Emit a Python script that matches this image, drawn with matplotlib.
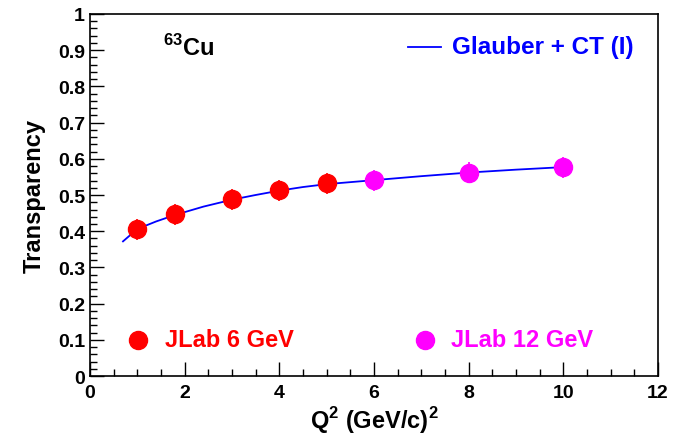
import matplotlib
matplotlib.use("Agg")
import matplotlib.pyplot as plt
import numpy as np
from matplotlib.ticker import MultipleLocator

plt.rcParams['font.family'] = ['Liberation Sans', 'DejaVu Sans']
plt.rcParams['font.weight'] = 'bold'
plt.rcParams['mathtext.fontset'] = 'custom'
plt.rcParams['mathtext.rm'] = 'Liberation Sans:bold'
plt.rcParams['mathtext.bf'] = 'Liberation Sans:bold'

# JLab 6 GeV points
q2_6 = [1.0, 1.8, 3.0, 4.0, 5.0]
t_6 = [0.406, 0.447, 0.488, 0.513, 0.532]
err_6 = [0.029, 0.029, 0.029, 0.029, 0.029]

# JLab 12 GeV projections
q2_12 = [6.0, 8.0, 10.0]
t_12 = [0.541, 0.561, 0.577]
err_12 = [0.029, 0.029, 0.029]

# Glauber + CT (I) curve
q2_curve = [0.7, 1.0, 1.4, 1.8, 2.4, 3.0, 3.5, 4.0, 4.5, 5.0, 6.0, 7.0, 8.0, 9.0, 10.0]
t_curve = [0.372, 0.406, 0.427, 0.445, 0.468, 0.487, 0.500, 0.512, 0.522, 0.530, 0.541, 0.552, 0.562, 0.570, 0.577]

fig = plt.figure(figsize=(6.86, 4.39), dpi=100)
ax = fig.add_axes([0.131, 0.141, 0.828, 0.825])

ax.plot(q2_curve, t_curve, color='#0000ff', lw=1.3, zorder=2)
ax.errorbar(q2_6, t_6, yerr=err_6, fmt='o', color='#ff0000', ms=13, elinewidth=1.2, capsize=0, zorder=3)
ax.errorbar(q2_12, t_12, yerr=err_12, fmt='o', color='#ff00ff', ms=13, elinewidth=1.2, capsize=0, zorder=3)

ax.set_xlim(0, 12)
ax.set_ylim(0, 1)
ax.xaxis.set_major_locator(MultipleLocator(2))
ax.xaxis.set_minor_locator(MultipleLocator(0.5))
ax.yaxis.set_minor_locator(MultipleLocator(0.02))
ax.set_yticks(np.arange(0, 1.01, 0.1))
ax.set_yticklabels(['0', '0.1', '0.2', '0.3', '0.4', '0.5', '0.6', '0.7', '0.8', '0.9', '1'])
ax.tick_params(which='both', direction='in', top=False, right=False, labelsize=14, width=1)
ax.tick_params(which='major', length=10)
ax.tick_params(which='minor', length=5)
ax.tick_params(axis='x', pad=6)
for lab in ax.get_xticklabels() + ax.get_yticklabels():
    lab.set_fontweight('bold')
for s in ax.spines.values():
    s.set_linewidth(1.2)

ax.set_xlabel(r'Q$^{2}$ (GeV/c)$^{2}$', fontsize=17, fontweight='bold', labelpad=2)
ax.set_ylabel('Transparency', fontsize=17, fontweight='bold', labelpad=9)

ax.text(1.55, 0.91, r'$^{63}$Cu', fontsize=17, fontweight='bold', va='center')
ax.plot([6.73, 7.41], [0.91, 0.91], color='#0000ff', lw=1.3)
ax.text(7.66, 0.91, 'Glauber + CT (I)', fontsize=17.5, fontweight='bold', color='#0000ff', va='center')

ax.plot([1.02], [0.1], 'o', color='#ff0000', ms=13)
ax.text(1.59, 0.1, 'JLab 6 GeV', fontsize=17, fontweight='bold', color='#ff0000', va='center')
ax.plot([7.07], [0.1], 'o', color='#ff00ff', ms=13)
ax.text(7.62, 0.1, 'JLab 12 GeV', fontsize=17, fontweight='bold', color='#ff00ff', va='center')

fig.savefig('out.png', dpi=100)
